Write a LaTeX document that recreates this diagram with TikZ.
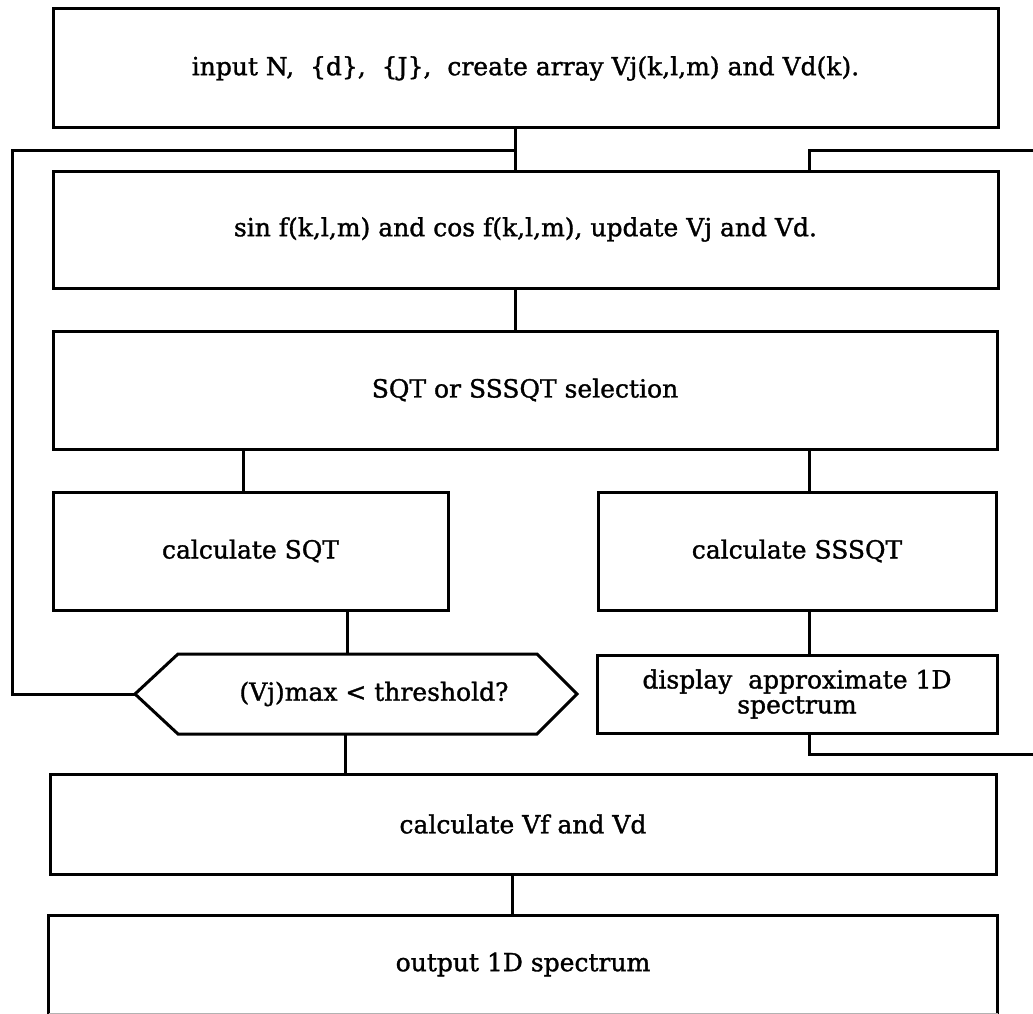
\documentclass[tikz,border=0pt]{standalone}
\usepackage{fontspec}
\setmainfont{DejaVu Serif}[BoldFont={DejaVu Serif}, BoldFeatures={FakeBold=1.3}]
\begin{document}
\begin{tikzpicture}[x=1pt,y=-1pt,
  line width=3pt,
  every node/.style={font=\fontsize{25}{29}\selectfont\bfseries, align=center, inner sep=0pt},
  stepbox/.style={draw, rectangle, minimum width=#1},
  wire/.style={line width=3pt}
]
\useasboundingbox (0,0) rectangle (1033,1014);

% process boxes
\node[stepbox=945pt, minimum height=119pt] (init) at (525.5,68.5)
  {input N,\ \ \{d\},\ \ \{J\},\ \ create array Vj(k,l,m) and Vd(k).};
\node[stepbox=945pt, minimum height=117pt] (upd) at (525.5,229.5)
  {sin f(k,l,m) and cos f(k,l,m), update Vj and Vd.};
\node[stepbox=944pt, minimum height=118pt] (sel) at (525,390)
  {SQT or SSSQT selection};
\node[stepbox=395pt, minimum height=118pt] (sqt) at (250.5,551)
  {calculate SQT};
\node[stepbox=398pt, minimum height=118pt] (sssqt) at (797,551)
  {calculate SSSQT};
\node[stepbox=400pt, minimum height=78pt] (disp) at (797,694)
  {display\ \ approximate 1D\\[-4pt]spectrum};
\node[stepbox=946pt, minimum height=100pt] (vfvd) at (523,824)
  {calculate Vf and Vd};
\node[rectangle, minimum width=946pt, minimum height=95pt] (out) at (523,964.5)
  {output 1D spectrum};
\draw (out.south west) -- (out.north west) -- (out.north east) -- (out.south east);
\draw[line width=1pt, gray!60] (out.south west) -- (out.south east);

% decision hexagon
\coordinate (hexW) at (135,694);
\coordinate (hexE) at (577,694);
\coordinate (hexN) at (347,654);
\coordinate (hexS) at (345,734);
\draw[line join=miter] (hexW) -- (178,654) -- (537,654) -- (hexE) -- (537,734) -- (178,734) -- cycle;
\node (test) at (374,694) {(Vj)max < threshold?};

% connector columns
\coordinate (mainx) at (515,0);
\coordinate (leftx) at (243,0);
\coordinate (rx) at (809,0);
\coordinate (lowx) at (512,0);
\coordinate (loopL) at (12,150);
\coordinate (loopR) at (1033,150);
\coordinate (loopEnd) at (1033,754);

% connectors
\draw[wire] (init.south -| mainx) -- (upd.north -| mainx);
\draw[wire, line join=miter] (hexW) -| (loopL) -- (mainx |- loopL);
\draw[wire, line join=miter] (loopR) -| (upd.north -| rx);
\draw[wire] (upd.south -| mainx) -- (sel.north -| mainx);
\draw[wire] (sel.south -| leftx) -- (sqt.north -| leftx);
\draw[wire] (sel.south -| rx) -- (sssqt.north -| rx);
\draw[wire] (sqt.south -| hexN) -- (hexN);
\draw[wire] (sssqt.south -| rx) -- (disp.north -| rx);
\draw[wire, line join=miter] (disp.south -| rx) |- (loopEnd);
\draw[wire] (hexS) -- (vfvd.north -| hexS);
\draw[wire] (vfvd.south -| lowx) -- (out.north -| lowx);
\end{tikzpicture}
\end{document}
